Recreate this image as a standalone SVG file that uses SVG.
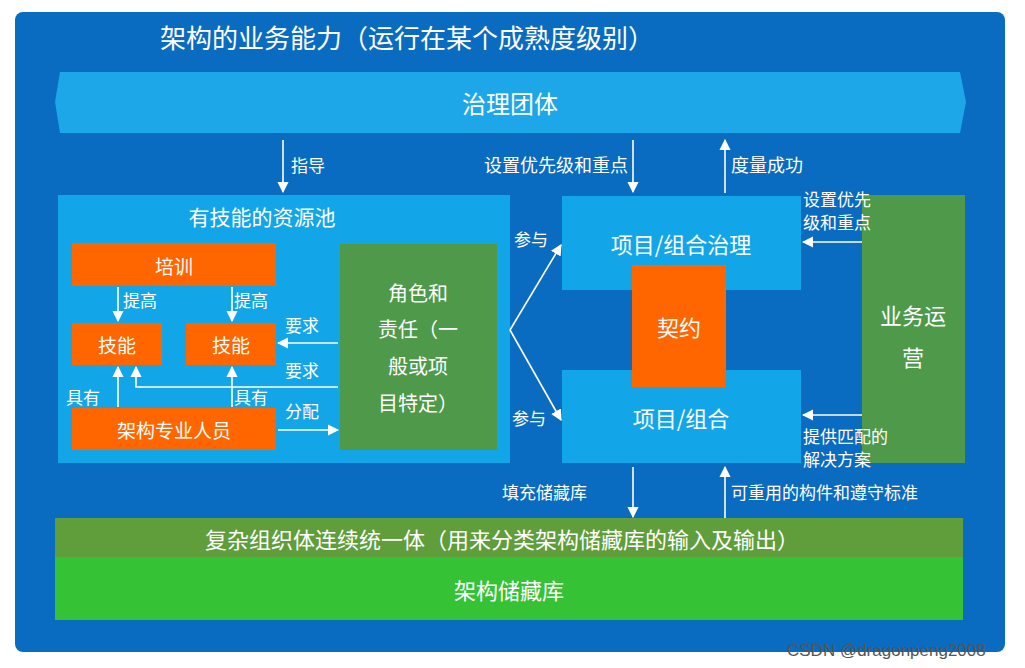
<svg xmlns="http://www.w3.org/2000/svg" width="1025" height="668" viewBox="0 0 1025 668">
<defs>
<marker id="ah" viewBox="0 0 10 10" refX="9" refY="5" markerWidth="7" markerHeight="7" orient="auto-start-reverse"><path d="M0,0 L10,5 L0,10 z" fill="#fff"/></marker>
<style>
text{font-family:"Noto Sans CJK SC","Liberation Sans",sans-serif;fill:#fff}
.t{text-anchor:middle;dominant-baseline:central}
.c line,.c polyline{stroke:#fff;stroke-width:1.6;fill:none;marker-end:url(#ah)}
.o{fill:#ff6600}
.g{fill:#4e9a4a}
.b{fill:#12a6e8}
</style>
</defs>
<rect width="1025" height="668" fill="#fff"/>
<rect x="15" y="12" width="990" height="640" rx="8" fill="#0a6cc0"/>
<text x="160" y="48" font-size="26">架构的业务能力（运行在某个成熟度级别）</text>
<g id="gov"><path d="M60,72 H960 L966,102 L960,133 H60 L55,102 Z" fill="#1ea7e8"/><text class="t" x="510" y="102" font-size="24">治理团体</text></g>
<g id="pool"><rect class="b" x="58" y="195" width="452" height="268"/><text class="t" x="262" y="216" font-size="21">有技能的资源池</text></g>
<g id="train"><rect class="o" x="72" y="243" width="204" height="43"/><text class="t" x="174" y="265" font-size="19">培训</text></g>
<g id="skill1"><rect class="o" x="72" y="323" width="90" height="42"/><text class="t" x="117" y="344" font-size="19">技能</text></g>
<g id="skill2"><rect class="o" x="186" y="323" width="90" height="42"/><text class="t" x="231" y="344" font-size="19">技能</text></g>
<g id="arch"><rect class="o" x="72" y="408" width="204" height="42"/><text class="t" x="174" y="429" font-size="19">架构专业人员</text></g>
<g id="role" font-size="20"><rect class="g" x="340" y="244" width="157" height="206"/>
<text class="t" x="418" y="292">角色和</text><text class="t" x="418" y="328">责任（一</text><text class="t" x="418" y="365">般或项</text><text class="t" x="418" y="402">目特定）</text></g>
<g id="pgov"><rect class="b" x="562" y="196" width="239" height="94"/><text class="t" x="681" y="243" font-size="22">项目/组合治理</text></g>
<g id="proj"><rect class="b" x="562" y="370" width="239" height="93"/><text class="t" x="681" y="417" font-size="22">项目/组合</text></g>
<g id="contract"><rect class="o" x="632" y="265" width="94" height="122"/><text class="t" x="679" y="326" font-size="22">契约</text></g>
<g id="bizops"><rect class="g" x="862" y="195" width="103" height="268"/><text class="t" x="913" y="314" font-size="22">业务运</text><text class="t" x="913" y="356" font-size="22">营</text></g>
<g id="continuum"><rect x="55" y="518" width="908" height="39" fill="#5f9e3a"/><text class="t" x="502" y="538" font-size="22">复杂组织体连续统一体（用来分类架构储藏库的输入及输出）</text></g>
<g id="repo"><rect x="55" y="557" width="908" height="63" fill="#35c235"/><text class="t" x="509" y="589" font-size="22">架构储藏库</text></g>
<g class="c" id="connectors">
<line x1="283" y1="140" x2="283" y2="192"/>
<line x1="633" y1="140" x2="633" y2="192"/>
<line x1="725" y1="193" x2="725" y2="140"/>
<line x1="862" y1="242" x2="803" y2="242"/>
<line x1="862" y1="415" x2="803" y2="415"/>
<line x1="633" y1="467" x2="633" y2="517"/>
<line x1="725" y1="518" x2="725" y2="467"/>
<line x1="510" y1="330" x2="561" y2="245"/>
<line x1="510" y1="330" x2="561" y2="420"/>
<line x1="118" y1="287" x2="118" y2="321"/>
<line x1="232" y1="287" x2="232" y2="321"/>
<line x1="338" y1="343" x2="278" y2="343"/>
<polyline points="338,387 136,387 136,367"/>
<line x1="118" y1="407" x2="118" y2="367"/>
<line x1="232" y1="407" x2="232" y2="367"/>
<line x1="278" y1="430" x2="338" y2="430"/>
</g>
<g id="labels" font-size="17">
<text x="291" y="172">指导</text>
<text x="484" y="172" font-size="18">设置优先级和重点</text>
<text x="731" y="172" font-size="18">度量成功</text>
<text x="803" y="206">设置优先</text><text x="803" y="229">级和重点</text>
<text x="803" y="443">提供匹配的</text><text x="803" y="466">解决方案</text>
<text x="502" y="499">填充储藏库</text>
<text x="731" y="499">可重用的构件和遵守标准</text>
<text x="514" y="246">参与</text>
<text x="512" y="425">参与</text>
<text x="123" y="307">提高</text><text x="234" y="307">提高</text>
<text x="285" y="332">要求</text><text x="285" y="377">要求</text>
<text x="66" y="404">具有</text><text x="234" y="404">具有</text>
<text x="285" y="418">分配</text>
</g>
<text x="787" y="656" font-size="17" style="fill:#555;font-family:'Liberation Sans',sans-serif">CSDN @dragonpeng2008</text>
</svg>
